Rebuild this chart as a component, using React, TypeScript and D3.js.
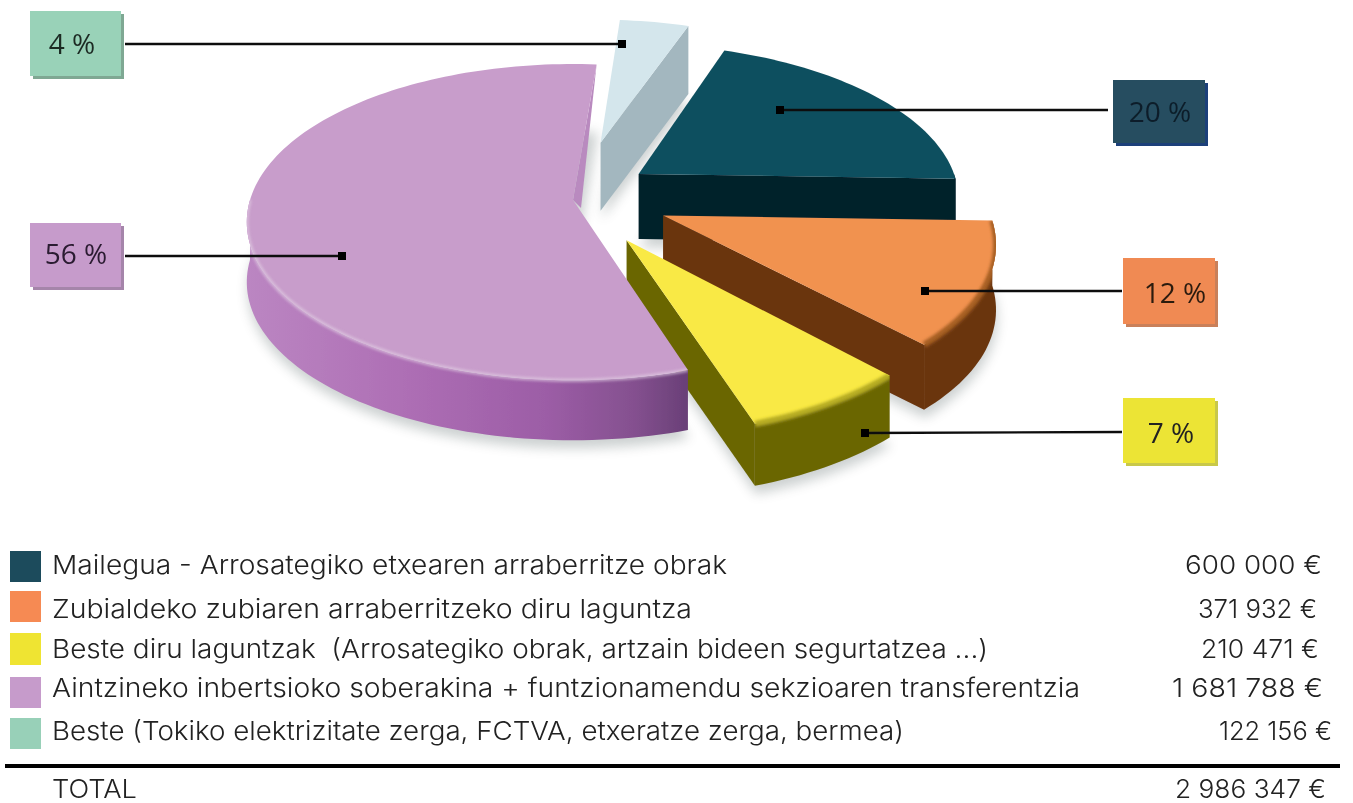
import React from "react";
import * as d3 from "d3";

// ---- data (legend order, which is also the clockwise order of the pie) ----
const categories = [
  "Mailegua - Arrosategiko etxearen arraberritze obrak",
  "Zubialdeko zubiaren arraberritzeko diru laguntza",
  "Beste diru laguntzak  (Arrosategiko obrak, artzain bideen segurtatzea ...)",
  "Aintzineko inbertsioko soberakina + funtzionamendu sekzioaren transferentzia",
  "Beste (Tokiko elektrizitate zerga, FCTVA, etxeratze zerga, bermea)",
];
const amounts = [600000, 371932, 210471, 1681788, 122156];
const amountLabels = ["600 000 €", "371 932 €", "210 471 €", "1 681 788 €", "122 156 €"];
const percentLabels = ["20 %", "12 %", "7 %", "56 %", "4 %"];
const totalLabel = "TOTAL";
const totalAmountLabel = "2 986 347 €";

// ---- styles ----
const swatchColors = ["#1b4b5c", "#f68a52", "#efe432", "#c69bcb", "#98d0b8"];
const topColors = ["#10505f", "#f19250", "#f9e944", "#c89dcb", "#d4e6ec"];
const sideColors = ["#03202c", "#6b3610", "#6b6606", "url(#purpleSide)", "#a3b7bf"];
const bevelColors = ["none", "#a65e22", "#b5ab20", "#e2cfe4", "none"];
const boxColors = ["#264d60", "#f08a52", "#ece436", "#c69bcb", "#99d2b8"];
const boxShadowColors = ["#1e3f7a", "#c9805a", "#c8c84a", "#a585aa", "#7fa893"];
const textColors = ["#0d1f2a", "#2a1a10", "#222", "#2a1a30", "#1c2a24"];

// ---- layout ----
const W = 1353, H = 803;
const centerX = 573, centerY = 200, radiusX = 323, radiusY = 155, persp = 0.14;
const startDeg = 19.5;
const depths = [65, 65, 62, 60, 68];
const explode: [number, number][] = [[0.208, -0.172], [0.275, 0.098], [0.16, 0.25], [0, 0], [0.09, -0.39]];
const boxes = [
  { x: 1113, y: 80, w: 92, h: 63, tx: 1160, ty: 122, ax: 780, ay: 110, bx: 1108, by: 110 },
  { x: 1123, y: 258, w: 92, h: 66, tx: 1175, ty: 303, ax: 925, ay: 291, bx: 1122, by: 291 },
  { x: 1123, y: 398, w: 92, h: 65, tx: 1171, ty: 443, ax: 865, ay: 433, bx: 1122, by: 432 },
  { x: 30, y: 223, w: 91, h: 64, tx: 76, ty: 264, ax: 342, ay: 256, bx: 125, by: 256 },
  { x: 30, y: 11, w: 91, h: 65, tx: 72, ty: 54, ax: 622, ay: 44, bx: 125, by: 44 },
];
const drawOrder = [0, 4, 1, 2, 3];
const swatchTops = [551, 591, 633, 677, 718];
const swatchHeights = [31, 31, 32, 31, 31];
const baselines = [574, 618, 658, 697, 740];
const textEnds = [727, 692, 988, 1080, 904];
const amountStarts = [1185, 1198, 1201, 1172, 1219];
const amountEnds = [1322, 1317, 1319, 1323, 1332];

const rad = (d: number) => (d * Math.PI) / 180;

const pie = d3.pie<number>().sort(null).startAngle(rad(startDeg)).endAngle(rad(startDeg + 360));
const arcs = pie(amounts);

function project(u: number, v: number): [number, number] {
  const k = 1 / (1 - persp * v);
  return [centerX + radiusX * u * k, centerY + radiusY * v * k];
}
function rimPoint(i: number, a: number, dz = 0): [number, number] {
  const [du, dv] = explode[i];
  const p = project(du + Math.sin(a), dv - Math.cos(a));
  return [p[0], p[1] + dz];
}
function apex(i: number, dz = 0): [number, number] {
  const p = project(explode[i][0], explode[i][1]);
  return [p[0], p[1] + dz];
}
function sample(a0: number, a1: number): number[] {
  const n = Math.max(2, Math.ceil(Math.abs(a1 - a0) / rad(1.5)));
  return d3.range(n + 1).map((k) => a0 + ((a1 - a0) * k) / n);
}
const line = d3.line<[number, number]>();
const closed = (pts: [number, number][]) => (line(pts) as string) + "Z";

function sliceShapes(i: number) {
  const { startAngle: s, endAngle: e } = arcs[i];
  const depth = depths[i];
  const topPts = [apex(i), ...sample(s, e).map((a) => rimPoint(i, a))];
  const frontFrom = Math.max(s, rad(90));
  const frontTo = Math.min(e, rad(270));
  let rim: string | null = null;
  let bevel: string | null = null;
  if (frontTo > frontFrom) {
    const angles = sample(frontFrom, frontTo);
    const upper = angles.map((a) => rimPoint(i, a));
    const lower = angles.map((a) => rimPoint(i, a, depth)).reverse();
    rim = closed([...upper, ...lower]);
    bevel = line(upper) as string;
  }
  const isPurple = arcs[i].value === d3.max(amounts);
  const tip = rimPoint(i, e);
  const cut = isPurple
    ? closed([tip, apex(i), [apex(i)[0] + 8, apex(i)[1] + 8]])
    : closed([apex(i), tip, rimPoint(i, e, depth), apex(i, depth)]);
  const shadow = closed([...topPts.map(([x, y]) => [x + 1, y + depth + 8] as [number, number])]);
  return { top: closed(topPts), rim, bevel, cut, shadow };
}

const xLeft = 52;

export default function App() {
  const shapes = amounts.map((_, i) => sliceShapes(i));
  const font = "'Inter', 'Noto Sans', sans-serif";
  return (
    <svg width={W} height={H} viewBox={`0 0 ${W} ${H}`}
      style={{ position: "absolute", left: 0, top: 0, background: "#fff" }}>
      <defs>
        <filter id="shadowBlur" x="-20%" y="-20%" width="140%" height="140%">
          <feGaussianBlur stdDeviation="6" />
        </filter>
        <filter id="bevelBlur" x="-10%" y="-10%" width="120%" height="120%">
          <feGaussianBlur stdDeviation="1.8" />
        </filter>
        <filter id="soft" x="0" y="0" width="100%" height="100%" filterUnits="userSpaceOnUse">
          <feGaussianBlur stdDeviation="0.45" />
        </filter>
        <linearGradient id="purpleSide" x1="0" x2="1" y1="0" y2="0">
          <stop offset="0" stopColor="#bb86c2" />
          <stop offset="0.35" stopColor="#ae6fb5" />
          <stop offset="0.68" stopColor="#9c5da6" />
          <stop offset="0.88" stopColor="#84508f" />
          <stop offset="1" stopColor="#693f77" />
        </linearGradient>
        {shapes.map((sh, i) => (
          <clipPath id={`silhouette${i}`} key={i}>
            <path d={sh.top} />
            {sh.rim && <path d={sh.rim as string} />}
          </clipPath>
        ))}
      </defs>

      <g filter="url(#soft)">
        <rect x={0} y={0} width={W} height={H} fill="#fff" />
        {drawOrder.map((i) => (
          <path key={i} d={shapes[i].shadow} fill="#4a5a5a" opacity={0.28} filter="url(#shadowBlur)" />
        ))}

        {drawOrder.map((i) => (
          <g key={i}>
            {shapes[i].rim && <path d={shapes[i].rim as string} fill={sideColors[i]} />}
            <path d={shapes[i].cut} fill={percentLabels[i] === "56 %" ? "#b98abf" : sideColors[i]} />
            <path d={shapes[i].top} fill={topColors[i]} />
            {shapes[i].bevel && bevelColors[i] !== "none" && (
              <g clipPath={`url(#silhouette${i})`}>
                <path d={shapes[i].bevel as string} fill="none" stroke={bevelColors[i]}
                  opacity={percentLabels[i] === "56 %" ? 0.75 : 1}
                  strokeWidth={percentLabels[i] === "56 %" ? 3 : 6} filter="url(#bevelBlur)" />
              </g>
            )}
          </g>
        ))}

        {boxes.map((b, i) => (
          <g key={i}>
            <rect x={b.x + 3} y={b.y + 3} width={b.w} height={b.h} fill={boxShadowColors[i]} />
            <rect x={b.x} y={b.y} width={b.w} height={b.h} fill={boxColors[i]} />
            <text x={b.tx} y={b.ty} textAnchor="middle" fontFamily="'Open Sans', sans-serif"
              fontSize={28} fill={textColors[i]}>{percentLabels[i]}</text>
            <line x1={b.bx} y1={b.by} x2={b.ax} y2={b.ay} stroke="#111" strokeWidth={2.4} />
            <rect x={b.ax - 4} y={b.ay - 4} width={8} height={8} fill="#050505" />
          </g>
        ))}

        {categories.map((c, i) => (
          <g key={i}>
            <rect x={10} y={swatchTops[i]} width={31} height={swatchHeights[i]} fill={swatchColors[i]} />
            <text x={xLeft} y={baselines[i]} fontFamily={font} fontSize={26} fontWeight={300} fill="#222" xmlSpace="preserve"
              textLength={textEnds[i] - xLeft} lengthAdjust="spacingAndGlyphs">{c}</text>
            <text x={amountStarts[i]} y={baselines[i]} fontFamily={font} fontSize={26} fontWeight={300} fill="#222"
              textLength={amountEnds[i] - amountStarts[i]} lengthAdjust="spacingAndGlyphs">{amountLabels[i]}</text>
          </g>
        ))}

        <rect x={5} y={764} width={1335} height={4} fill="#000" />
        <text x={xLeft} y={798} fontFamily={font} fontSize={26} fontWeight={300} fill="#222"
          textLength={85} lengthAdjust="spacingAndGlyphs">{totalLabel}</text>
        <text x={1175} y={798} fontFamily={font} fontSize={26} fontWeight={300} fill="#222"
          textLength={151} lengthAdjust="spacingAndGlyphs">{totalAmountLabel}</text>
      </g>
    </svg>
  );
}
